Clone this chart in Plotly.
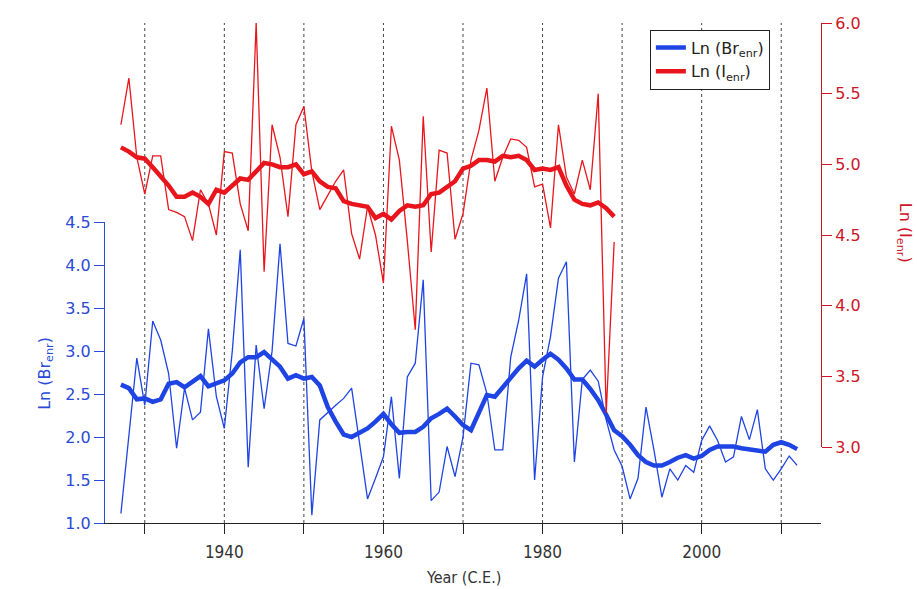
import plotly.graph_objects as go

# ---- data -------------------------------------------------------------
years_br = list(range(1927, 2013))
br_annual = [
    1.11, 2.02, 2.92, 2.37, 3.35, 3.13, 2.74, 1.87, 2.57, 2.20,
    2.29, 3.26, 2.47, 2.10, 3.00, 4.18, 1.65, 3.07, 2.33, 3.00,
    4.25, 3.09, 3.06, 3.38, 1.09, 2.20, 2.29, 2.37, 2.45, 2.57,
    1.93, 1.28, 1.52, 1.77, 2.47, 1.52, 2.70, 2.86, 3.83, 1.26,
    1.36, 1.89, 1.54, 2.00, 2.86, 2.84, 2.51, 1.85, 1.85, 2.93,
    3.36, 3.90, 1.50, 2.70, 3.17, 3.85, 4.04, 1.71, 2.67, 2.78,
    2.65, 2.20, 1.85, 1.66, 1.28, 1.52, 2.35, 1.85, 1.30, 1.63,
    1.50, 1.67, 1.59, 1.96, 2.13, 1.96, 1.71, 1.77, 2.24, 1.97,
    2.32, 1.63, 1.50, 1.63, 1.78, 1.67,
]
br_smooth = [
    2.61, 2.57, 2.44, 2.45, 2.41, 2.44, 2.62, 2.64, 2.58, 2.64,
    2.71, 2.59, 2.62, 2.66, 2.74, 2.87, 2.93, 2.93, 2.99, 2.91,
    2.82, 2.68, 2.72, 2.68, 2.70, 2.60, 2.35, 2.18, 2.03, 2.00,
    2.05, 2.10, 2.18, 2.27, 2.15, 2.05, 2.06, 2.06, 2.12, 2.22,
    2.27, 2.33, 2.24, 2.14, 2.08, 2.28, 2.49, 2.47, 2.58, 2.70,
    2.80, 2.89, 2.82, 2.90, 2.97, 2.90, 2.80, 2.67, 2.67, 2.56,
    2.43, 2.26, 2.08, 2.01, 1.91, 1.79, 1.71, 1.67, 1.67, 1.71,
    1.76, 1.79, 1.75, 1.78, 1.85, 1.89, 1.89, 1.89, 1.87, 1.86,
    1.84, 1.83, 1.91, 1.94, 1.91, 1.86,
]

years_i = list(range(1927, 1990))
i_annual = [
    5.28, 5.61, 5.05, 4.79, 5.06, 5.06, 4.68, 4.66, 4.63, 4.46,
    4.82, 4.72, 4.50, 5.09, 5.08, 4.72, 4.53, 6.00, 4.24, 5.28,
    5.05, 4.63, 5.28, 5.41, 4.95, 4.68, 4.78, 4.88, 4.96, 4.51,
    4.33, 4.70, 4.50, 4.16, 5.27, 5.03, 4.46, 3.83, 5.34, 4.38,
    5.10, 5.08, 4.47, 4.65, 5.03, 5.24, 5.54, 4.88, 5.05, 5.18,
    5.17, 5.12, 4.84, 4.86, 4.55, 5.28, 4.91, 4.79, 5.03, 4.82,
    5.50, 3.24, 4.45,
]
i_smooth = [
    5.12, 5.09, 5.05, 5.04, 4.98, 4.92, 4.85, 4.77, 4.77, 4.80,
    4.77, 4.72, 4.82, 4.80, 4.85, 4.90, 4.89, 4.95, 5.01, 5.00,
    4.98, 4.98, 5.00, 4.93, 4.95, 4.88, 4.84, 4.83, 4.74, 4.72,
    4.71, 4.70, 4.62, 4.65, 4.61, 4.67, 4.71, 4.70, 4.71, 4.79,
    4.80, 4.84, 4.88, 4.97, 4.99, 5.03, 5.03, 5.02, 5.06, 5.05,
    5.06, 5.03, 4.96, 4.97, 4.96, 4.98, 4.85, 4.75, 4.72, 4.71,
    4.73, 4.69, 4.63,
]

decades = list(range(1930, 2020, 10))
decade_labels = [str(d) if d % 20 == 0 else "" for d in decades]
br_ticks = [1.0, 1.5, 2.0, 2.5, 3.0, 3.5, 4.0, 4.5]
i_ticks = [3.0, 3.5, 4.0, 4.5, 5.0, 5.5, 6.0]

# ---- styling ----------------------------------------------------------
BLUE = "#1f44e4"
BLUE_AX = "#2a4ad8"
RED = "#e8161c"
RED_AX = "#cc1628"
FONT = "DejaVu Sans, Verdana, sans-serif"
NARROW = "Liberation Sans Narrow, DejaVu Sans Condensed, Arial Narrow, sans-serif"

fig = go.Figure()

fig.add_trace(go.Scatter(x=years_br, y=br_annual, mode="lines",
                         line=dict(color=BLUE, width=1.3),
                         showlegend=False, yaxis="y"))
fig.add_trace(go.Scatter(x=years_br, y=br_smooth, mode="lines",
                         line=dict(color=BLUE, width=4.5),
                         name="Ln (Br<sub>enr</sub>)", yaxis="y"))
fig.add_trace(go.Scatter(x=years_i, y=i_annual, mode="lines",
                         line=dict(color=RED, width=1.3),
                         showlegend=False, yaxis="y2"))
fig.add_trace(go.Scatter(x=years_i, y=i_smooth, mode="lines",
                         line=dict(color=RED, width=4.5),
                         name="Ln (I<sub>enr</sub>)", yaxis="y2"))

# dotted decade guides spanning the whole plotting area
shapes = [
    dict(type="line", xref="x", yref="paper", x0=d, x1=d, y0=0, y1=1,
         line=dict(color="#444", width=1, dash="dot"), layer="below")
    for d in decades
]

fig.update_layout(
    width=917, height=589,
    margin=dict(l=105, r=96, t=23, b=66),
    paper_bgcolor="white",
    plot_bgcolor="rgba(0,0,0,0)",
    font=dict(family=FONT, size=15, color="#222"),
    shapes=shapes,
    xaxis=dict(
        range=[1925, 2015], domain=[0, 1], anchor="y",
        showline=True, linecolor="#222", linewidth=1,
        ticks="outside", ticklen=10, tickcolor="#222",
        tickvals=decades, ticktext=decade_labels,
        tickfont=dict(family=NARROW, size=17, color="#333"),
        ticklabelstandoff=4,
        showgrid=False, zeroline=False,
    ),
    yaxis=dict(
        range=[1.0, 4.5], domain=[0, 0.6014], anchor="x",
        showline=True, linecolor=BLUE_AX, linewidth=1,
        ticks="outside", ticklen=10, tickcolor=BLUE_AX,
        tickvals=br_ticks, ticktext=[f"{t:.1f}" for t in br_ticks],
        tickfont=dict(family=FONT, size=16, color=BLUE_AX),
        showgrid=False, zeroline=False,
    ),
    yaxis2=dict(
        range=[3.0, 6.0], domain=[0.152, 1], anchor="free", position=1,
        side="right",
        showline=True, linecolor=RED_AX, linewidth=1,
        ticks="outside", ticklen=10, tickcolor=RED_AX,
        tickvals=i_ticks, ticktext=[f"{t:.1f}" for t in i_ticks],
        tickfont=dict(family=FONT, size=16, color=RED_AX),
        showgrid=False, zeroline=False,
    ),
    legend=dict(
        x=0.761, y=0.987, xanchor="left", yanchor="top",
        bgcolor="white", bordercolor="#222", borderwidth=1,
        font=dict(family=FONT, size=16, color="#222"),
        tracegroupgap=0,
    ),
    annotations=[
        dict(text="Ln (Br<sub>enr</sub>)", xref="paper", yref="paper",
             x=-0.084, y=0.30, textangle=-90, showarrow=False,
             font=dict(family=FONT, size=16, color=BLUE_AX),
             xanchor="center", yanchor="middle"),
        dict(text="Ln (I<sub>enr</sub>)", xref="paper", yref="paper",
             x=1.117, y=0.581, textangle=90, showarrow=False,
             font=dict(family=FONT, size=16, color=RED_AX),
             xanchor="center", yanchor="middle"),
        dict(text="Year (C.E.)", xref="paper", yref="paper",
             x=0.5, y=-0.109, showarrow=False,
             font=dict(family=NARROW, size=16, color="#333"),
             xanchor="center", yanchor="middle"),
    ],
)

fig.write_html("out.html")
